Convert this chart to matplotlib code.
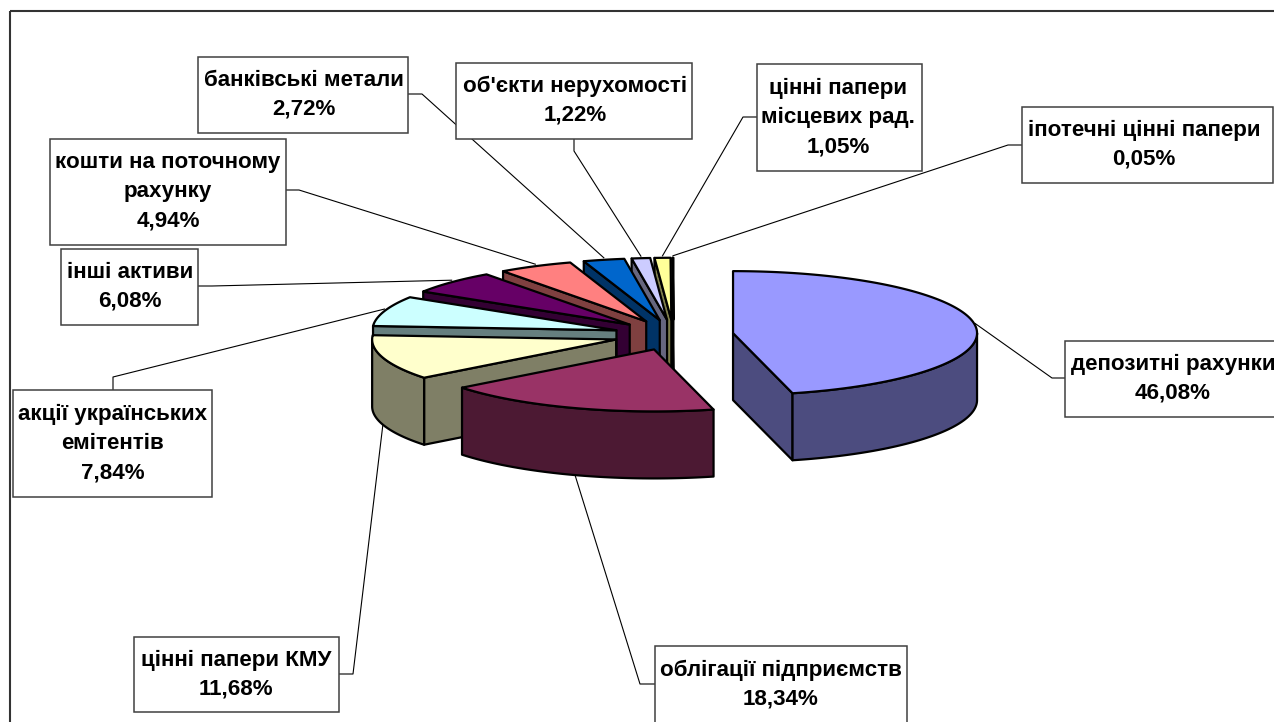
import numpy as np
import matplotlib
matplotlib.use("Agg")
import matplotlib.pyplot as plt
from matplotlib.patches import Polygon, Rectangle

# ---- data -------------------------------------------------------------
categories = ["депозитні рахунки", "облігації підприємств", "цінні папери КМУ",
              "акції українських\nемітентів", "інші активи",
              "кошти на поточному\nрахунку", "банківські метали",
              "об'єкти нерухомості", "цінні папери\nмісцевих рад.",
              "іпотечні цінні папери"]
shares = [46.08, 18.34, 11.68, 7.84, 6.08, 4.94, 2.72, 1.22, 1.05, 0.05]

# ---- styles -----------------------------------------------------------
top_colors = ["#9999FF", "#993366", "#FFFFCC", "#CCFFFF", "#660066",
              "#FF8080", "#0066CC", "#CCCCFF", "#FFFF99", "#000000"]
side_colors = ["#4C4C7F", "#4C1933", "#7F7F66", "#667F7F", "#330033",
               "#7F4040", "#003366", "#66667F", "#7F7F4C", "#000000"]

# ---- layout (pixels) --------------------------------------------------
CX, CY = 673.5, 335.0       # pie centre
RX, RY = 244.0, 62.0        # ellipse radii
DEPTH = 67.0                # pie height
EXPLODE = 60.0              # explosion distance, in RX units of pixels

# label box: x0, y0, x1, y1
boxes = [(1065, 341, 1400, 417), (655, 646, 907, 760), (134, 637, 339, 712),
         (13, 390, 212, 497), (61, 249, 198, 325), (50, 139, 286, 245),
         (198, 57, 408, 133), (456, 63, 692, 139), (757, 64, 922, 171),
         (1022, 107, 1273, 183)]
text_centres = [(1173, 378.5), (781, 684.5), (236, 674.5), (113, 443.5), (130, 286.5),
                (168, 191.5), (304, 94.5), (575, 100.5), (838, 117.5), (1144, 144.5)]
# leader: start on the box, elbow
leader_starts = [(1065, 378), (655, 684), (339, 674), (113, 390), (198, 286),
                 (286, 190), (408, 94), (574, 139), (757, 117), (1022, 145)]
leader_elbows = [(1052, 378), (640, 684), (353, 674), (113, 377), (212, 286),
                 (299, 190), (422, 94), (574, 151), (743, 117), (1008, 145)]

plt.rcParams["font.family"] = ["Liberation Sans", "DejaVu Sans"]
fig = plt.figure(figsize=(12.74, 7.22), dpi=100, facecolor="white")
ax = fig.add_axes([0, 0, 1, 1])
ax.set_xlim(0, 1274)
ax.set_ylim(722, 0)
ax.axis("off")

ax.add_patch(Rectangle((10, 11), 1500, 900, fill=False, ec="#333333", lw=1.5, zorder=1))

# ---- wedge geometry from the shares -----------------------------------
fracs = np.array(shares) / sum(shares) * 2 * np.pi
ends = np.cumsum(fracs)
starts = ends - fracs
mids = (starts + ends) / 2


def apex(i):
    return (CX + EXPLODE * np.sin(mids[i]),
            CY - EXPLODE * np.cos(mids[i]) * RY / RX)


def rim(i, t):
    ax_, ay_ = apex(i)
    return np.column_stack([ax_ + RX * np.sin(t), ay_ - RY * np.cos(t)])


edge = dict(ec="black", lw=1.6, joinstyle="round")
z = 5
for i in range(len(shares) - 1, -1, -1):
    a = np.array(apex(i))
    d = np.array([0, DEPTH])
    t0, t1 = starts[i], ends[i]
    # radial cut faces visible to the viewer
    if np.sin(t0) < -1e-6:
        p = rim(i, np.array([t0]))[0]
        ax.add_patch(Polygon([a, p, p + d, a + d], fc=side_colors[i], zorder=z, **edge))
    if np.sin(t1) > 1e-6:
        p = rim(i, np.array([t1]))[0]
        ax.add_patch(Polygon([a, p, p + d, a + d], fc=side_colors[i], zorder=z, **edge))
    # outer wall, front half only
    lo, hi = max(t0, np.pi / 2), min(t1, 3 * np.pi / 2)
    if hi > lo:
        t = np.linspace(lo, hi, 80)
        arc = rim(i, t)
        ax.add_patch(Polygon(np.vstack([arc, (arc + d)[::-1]]),
                             fc=side_colors[i], zorder=z, **edge))
    # top face
    t = np.linspace(t0, t1, max(int(np.degrees(t1 - t0)), 2) + 1)
    ax.add_patch(Polygon(np.vstack([a, rim(i, t)]), fc=top_colors[i], zorder=z, **edge))
    z += 1

# ---- labels and leaders -----------------------------------------------
for i, cat in enumerate(categories):
    m = np.array([mids[i]])
    end = rim(i, m)[0]
    if np.cos(mids[i]) < 0 and np.sin(mids[i]) < 0.9:
        end = end + np.array([0, DEPTH])        # wall of a front wedge
    if np.cos(mids[i]) > 0:
        end = end + np.array([0, -2])
    sx, sy = leader_starts[i]
    ex, ey = leader_elbows[i]
    ax.plot([sx, ex, end[0]], [sy, ey, end[1]], color="black", lw=0.8, zorder=3)

    x0, y0, x1, y1 = boxes[i]
    ax.add_patch(Rectangle((x0, y0), x1 - x0, y1 - y0, fc="white", ec="#404040",
                           lw=1.1, zorder=30))
    label = f"{cat}\n{shares[i]:.2f}%".replace(".", ",")
    label = label.replace("рад,", "рад.")
    tx, ty = text_centres[i]
    ax.text(tx, ty, label, ha="center", va="center", fontsize=16.1,
            fontweight="bold", linespacing=1.5, color="black", zorder=31)

fig.savefig("out.png", dpi=100, facecolor="white")
